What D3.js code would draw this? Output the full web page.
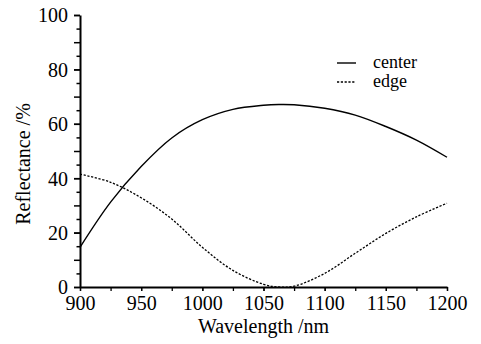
<!DOCTYPE html>
<html>
<head>
<meta charset="utf-8">
<script src="https://cdn.jsdelivr.net/npm/d3@7"></script>
<style>
  body { margin: 0; background: #fff; }
  svg text { fill: #000; }
</style>
</head>
<body>
<div id="chart"></div>
<script>
// Reflectance vs wavelength, center vs edge
const wavelength = [900, 925, 950, 975, 1000, 1025, 1050, 1062.5, 1075, 1100, 1125, 1150, 1175, 1200];
const center = [14.6, 31.2, 44.3, 54.8, 61.5, 65.3, 66.8, 67.1, 67.0, 65.7, 63.2, 59, 54, 47.7];
const edge = [41.5, 38.5, 32.8, 25, 14.6, 6.1, 1.0, 0, 0.3, 5, 12.4, 19.7, 25.8, 30.8];
const xTicks = [900, 950, 1000, 1050, 1100, 1150, 1200];
const yTicks = [0, 20, 40, 60, 80, 100];
const seriesNames = ["center", "edge"];

const width = 481, height = 344;
const margin = { top: 15, right: 34, bottom: 57, left: 80 };
const innerW = width - margin.left - margin.right;
const innerH = height - margin.top - margin.bottom;
const serif = "\"Liberation Serif\", Tinos, \"Times New Roman\", \"Noto Serif\", \"DejaVu Serif\", serif";

const svg = d3.select("#chart").append("svg")
  .attr("width", width)
  .attr("height", height)
  .style("font-family", serif);

const g = svg.append("g")
  .attr("transform", `translate(${margin.left},${margin.top})`);

const x = d3.scaleLinear().domain([900, 1200]).range([0, innerW]);
const y = d3.scaleLinear().domain([0, 100]).range([innerH, 0]);

// minor ticks
g.append("g")
  .attr("transform", `translate(0,${innerH})`)
  .call(d3.axisBottom(x).tickValues(d3.range(900, 1201, 25)).tickSize(4).tickSizeOuter(0).tickFormat(""))
  .call(a => a.select(".domain").remove())
  .selectAll("line").attr("stroke-width", 1.3);

g.append("g")
  .call(d3.axisLeft(y).tickValues(d3.range(0, 101, 5).filter(d => d % 10 !== 0)).tickSize(3.5).tickSizeOuter(0).tickFormat(""))
  .call(a => a.select(".domain").remove())
  .selectAll("line").attr("stroke-width", 1.5);

g.append("g")
  .call(d3.axisLeft(y).tickValues(d3.range(0, 101, 10)).tickSize(6).tickSizeOuter(0).tickFormat(""))
  .call(a => a.select(".domain").remove())
  .selectAll("line").attr("stroke-width", 1.5);

// main axes
const xAxis = g.append("g")
  .attr("transform", `translate(0,${innerH})`)
  .call(d3.axisBottom(x).tickValues(xTicks).tickFormat(d3.format("d")).tickSize(4).tickSizeOuter(0).tickPadding(5));
xAxis.attr("font-family", null);
xAxis.select(".domain").attr("stroke-width", 2);
xAxis.selectAll("line").attr("stroke-width", 1.3);
xAxis.selectAll("text").attr("font-size", 20).attr("dy", "0.72em");

const yAxis = g.append("g")
  .call(d3.axisLeft(y).tickValues(yTicks).tickFormat(d3.format("d")).tickSize(6).tickSizeOuter(0).tickPadding(6));
yAxis.attr("font-family", null);
yAxis.select(".domain").attr("stroke-width", 2);
yAxis.selectAll("line").attr("stroke-width", 1.5);
yAxis.selectAll("text").attr("font-size", 20).attr("dy", "0.34em");

// axis titles
svg.append("text")
  .attr("x", margin.left + innerW / 2)
  .attr("y", 333)
  .attr("text-anchor", "middle")
  .attr("font-size", 20)
  .text("Wavelength /nm");

svg.append("text")
  .attr("transform", `translate(30,${margin.top + innerH / 2 + 13}) rotate(-90)`)
  .attr("text-anchor", "middle")
  .attr("font-size", 20)
  .text("Reflectance /%");

// curves
const data = [
  { name: seriesNames[0], values: wavelength.map((w, i) => [w, center[i]]), dash: null },
  { name: seriesNames[1], values: wavelength.map((w, i) => [w, edge[i]]), dash: "2.2,1.6" }
];

const line = d3.line()
  .x(d => x(d[0]))
  .y(d => y(Math.max(0, d[1])))
  .curve(d3.curveCatmullRom.alpha(0.5));

g.selectAll(".series")
  .data(data)
  .enter()
  .append("path")
  .attr("class", "series")
  .attr("d", d => line(d.values))
  .attr("fill", "none")
  .attr("stroke", "#000")
  .attr("stroke-width", d => d.dash ? 1.3 : 1.4)
  .attr("stroke-dasharray", d => d.dash);

// legend
const legend = svg.append("g").attr("transform", "translate(337,63)");
data.forEach((d, i) => {
  const row = legend.append("g").attr("transform", `translate(0,${i * 19})`);
  row.append("line")
    .attr("x1", 0).attr("x2", 19)
    .attr("y1", 0).attr("y2", 0)
    .attr("stroke", "#000")
    .attr("stroke-width", d.dash ? 1.3 : 1.4)
    .attr("stroke-dasharray", d.dash);
  row.append("text")
    .attr("x", 36)
    .attr("y", 0)
    .attr("dy", "0.3em")
    .attr("font-size", 18)
    .text(d.name);
});
</script>
</body>
</html>
